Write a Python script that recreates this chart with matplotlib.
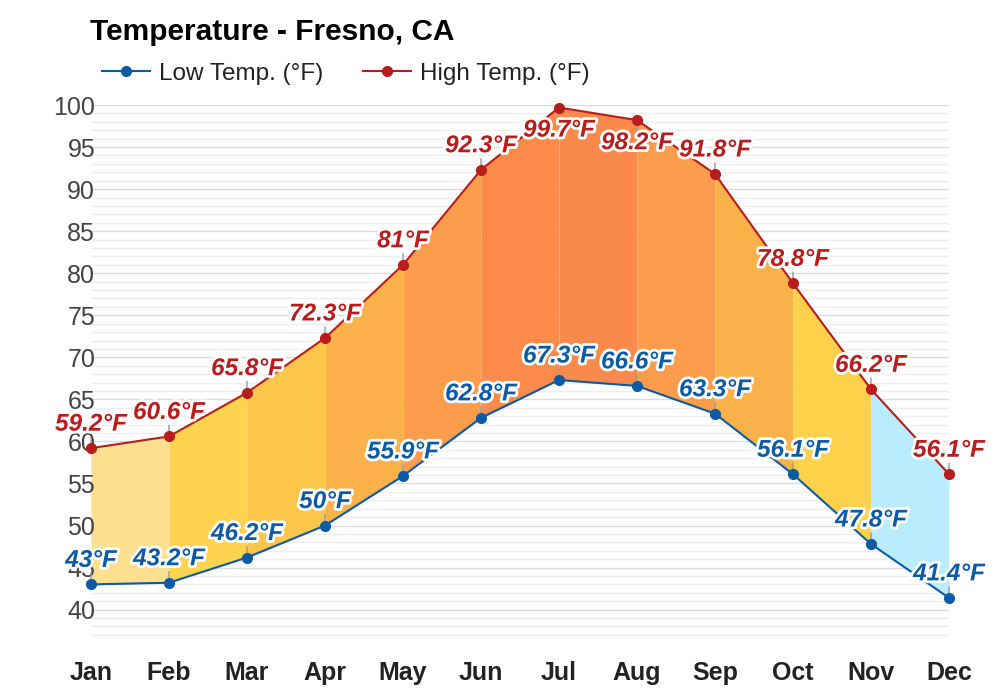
import matplotlib.pyplot as plt
import matplotlib.patheffects as pe
import numpy as np

months = ["Jan", "Feb", "Mar", "Apr", "May", "Jun",
          "Jul", "Aug", "Sep", "Oct", "Nov", "Dec"]
low = [43, 43.2, 46.2, 50, 55.9, 62.8, 67.3, 66.6, 63.3, 56.1, 47.8, 41.4]
high = [59.2, 60.6, 65.8, 72.3, 81, 92.3, 99.7, 98.2, 91.8, 78.8, 66.2, 56.1]
# fill colour of the band from each month to the next
band_colors = ["#fce08f", "#fdd34f", "#fdc54a", "#fcb14a", "#fb9d4d", "#fb8a4b",
               "#fa8a4c", "#fb9c4c", "#fbb14a", "#fdd24a", "#b9ecfc"]
# high labels drawn under the point (top of the chart)
below_high = {"Jul", "Aug"}

plt.rcParams['font.family'] = ['Liberation Sans', 'DejaVu Sans']

fig = plt.figure(figsize=(10, 7), dpi=100)
ax = fig.add_axes([0.091, 0.081, 0.858, 0.769])

x = np.arange(len(months))

# gridlines every degree, darker every 5
for v in range(36, 101):
    ax.axhline(v, color="#dcdcdc" if v % 5 == 0 else "#eeeeee", lw=1, zorder=0)

for i in range(len(months) - 1):
    ax.fill_between(x[i:i + 2], low[i:i + 2], high[i:i + 2],
                    color=band_colors[i], lw=0, zorder=1)

low_c = "#0b5aa6"
high_c = "#b81c1c"
ax.plot(x, low, color=low_c, lw=1.5, marker="o", ms=7, zorder=3,
        clip_on=False, label="Low Temp. (°F)")
ax.plot(x, high, color=high_c, lw=1.5, marker="o", ms=7, zorder=3,
        clip_on=False, label="High Temp. (°F)")

outline = [pe.withStroke(linewidth=4, foreground="white")]
for ys, c, name in [(low, low_c, "low"), (high, high_c, "high")]:
    for m, xi, yi in zip(months, x, ys):
        down = name == "high" and m in below_high
        off = -10 if down else 10
        ax.annotate("", xy=(xi, yi), xytext=(0, off), textcoords="offset points",
                    arrowprops=dict(arrowstyle="-", color="#999999", lw=1),
                    zorder=2, annotation_clip=False)
        ax.annotate(f"{yi:g}°F", xy=(xi, yi), xytext=(0, -8 if down else 9),
                    textcoords="offset points", ha="center",
                    va="top" if down else "bottom", fontsize=17.5,
                    fontweight="bold", fontstyle="italic", color=c,
                    path_effects=outline, zorder=4, annotation_clip=False)

ax.set_xlim(0, 11)
ax.set_ylim(36, 100)
ax.set_yticks(range(40, 101, 5))
ax.set_xticks(x)
ax.set_xticklabels(months, fontsize=18, fontweight="bold", color="#222222")
ax.tick_params(axis="y", labelsize=18, labelcolor="#444444", length=0, pad=-3)
ax.tick_params(axis="x", length=0, pad=13)
for s in ax.spines.values():
    s.set_visible(False)

fig.text(0.09, 0.955, "Temperature - Fresno, CA", fontsize=21.5, fontweight="bold",
         ha="left", va="center")
fig.legend(loc="center left", bbox_to_anchor=(0.08, 0.895), ncol=2, frameon=False,
           fontsize=17.5, handlelength=2.0, columnspacing=1.6, handletextpad=0.37,
           labelcolor="#222222")

fig.savefig("out.png", dpi=100)
